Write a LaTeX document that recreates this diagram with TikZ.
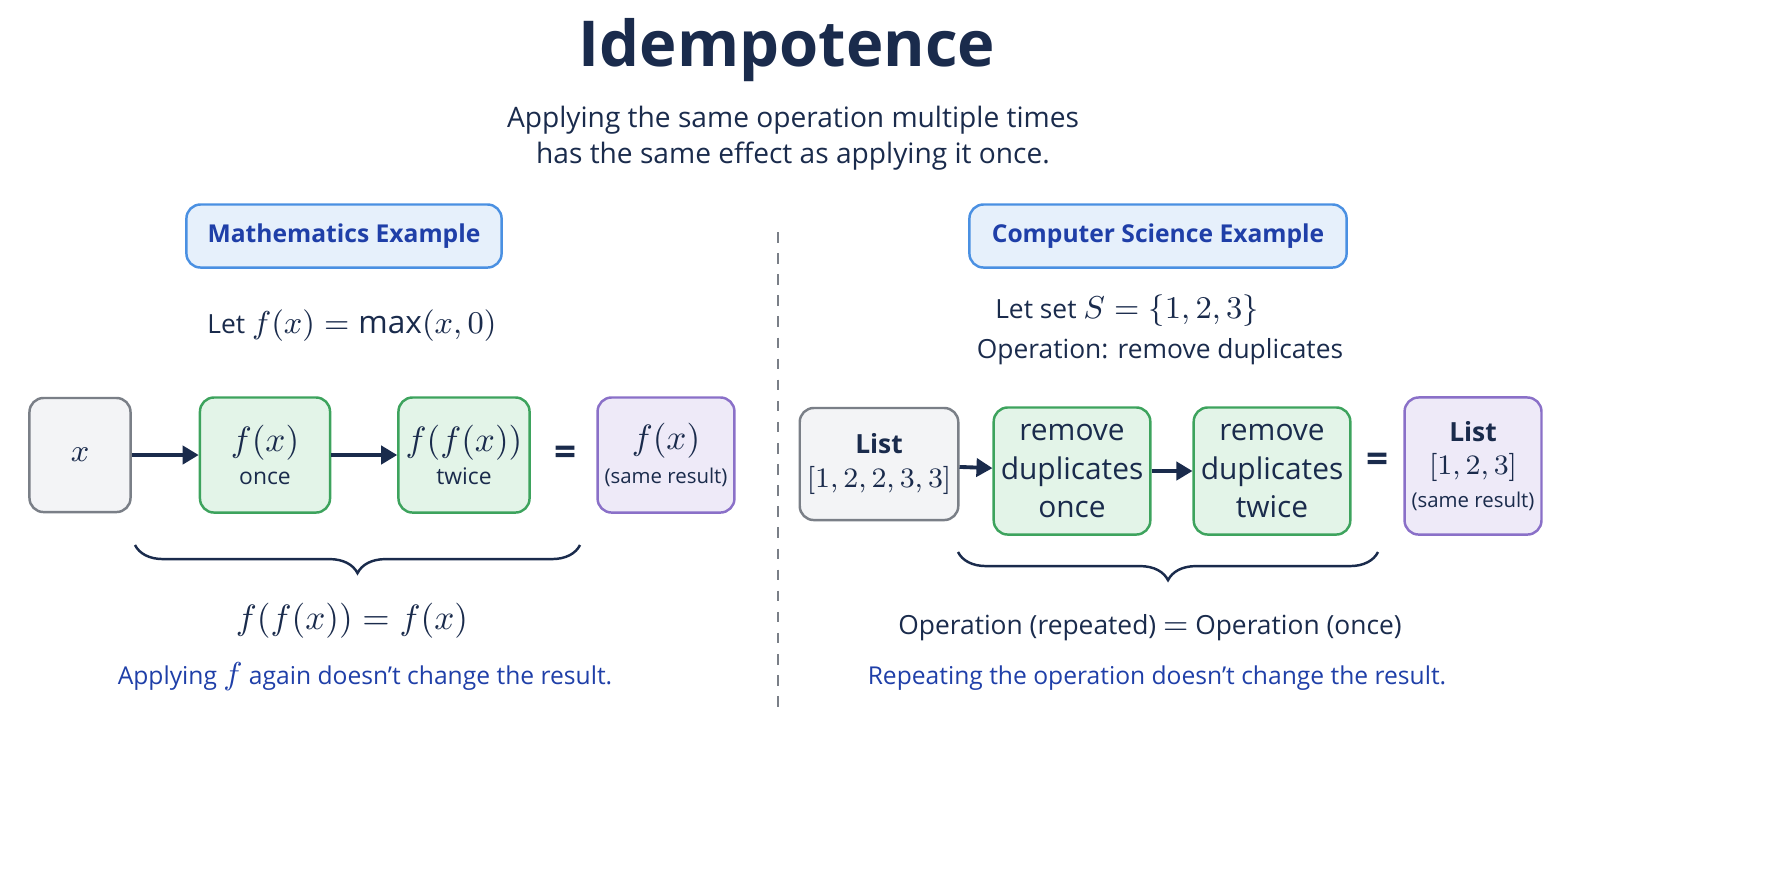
\documentclass[tikz,border=0pt]{standalone}
\usepackage{fontspec}
\setmainfont{Open Sans}
\usepackage{amsmath}
\usetikzlibrary{arrows.meta,decorations.pathreplacing}
\definecolor{navy}{HTML}{1A2B4C}
\definecolor{linkblue}{HTML}{1F3FA8}
\definecolor{hdrfill}{HTML}{E6F0FB}
\definecolor{hdrdraw}{HTML}{4A90E2}
\definecolor{grnfill}{HTML}{E3F4E8}
\definecolor{grndraw}{HTML}{3DA35D}
\definecolor{gryfill}{HTML}{F3F4F6}
\definecolor{grydraw}{HTML}{7A7F87}
\definecolor{purfill}{HTML}{EEEAF8}
\definecolor{purdraw}{HTML}{8A70C8}
\newcommand{\fs}[1]{\fontsize{#1}{1.3\dimexpr#1pt\relax}\selectfont}
\begin{document}
\begin{tikzpicture}[x=0.01cm, y=-0.01cm, font=\fs{6.5}, text=navy,
	box/.style={rounded corners=4pt, line width=0.7pt, align=center, inner sep=2pt},
	header/.style={box, fill=hdrfill, draw=hdrdraw, text=linkblue, font=\fs{7}\bfseries, minimum height=0.63cm},
	grn/.style={box, fill=grnfill, draw=grndraw},
	gry/.style={box, fill=gryfill, draw=grydraw},
	pur/.style={box, fill=purfill, draw=purdraw},
	apply/.style={-{Triangle[length=1.6mm,width=1.8mm]}, line width=1.1pt, navy},
	brace/.style={decorate, decoration={brace, mirror, amplitude=8pt}, line width=0.7pt, navy}]
	\useasboundingbox (0,0) rectangle (1774,887);
	\node[font=\fs{18}\bfseries] (title) at (787,50) {Idempotence};
	\node[align=center, font=\fs{8}] (sub) at (793,138) {Applying the same operation multiple times\\has the same effect as applying it once.};
	\draw[dashed, grydraw, line width=0.6pt] (778,232) coordinate (top) -- (778,715) coordinate (bot);
	% mathematics
	\node[header, minimum width=3.15cm] (mhead) at (344,236) {Mathematics Example};
	\node[font=\fs{7.5}] (mlet) at (352,326) {Let \fs{9}$f(x)=\max(x,0)$};
	\node[gry, minimum width=1.01cm, minimum height=1.14cm] (mx) at (80,455) {\fs{9}$x$};
	\node[grn, minimum width=1.30cm, minimum height=1.15cm] (monce) at (265,455) {\fs{10}$f(x)$\\[1pt] \fs{6.5}once};
	\node[grn, minimum width=1.31cm, minimum height=1.15cm] (mtwice) at (464,455) {\fs{10}$f(f(x))$\\[1pt] \fs{6.5}twice};
	\node[font=\fs{11}\bfseries] (meq) at (566,456) {=};
	\node[pur, minimum width=1.33cm, minimum height=1.15cm] (mres) at (666,455) {\fs{10}$f(x)$\\[1pt] \fs{5.8}(same result)};
	\draw[apply] (mx) -- (monce);
	\draw[apply] (monce) -- (mtwice);
	\draw[brace] (135,545) -- (580,545);
	\node[font=\fs{10}] (mlaw) at (352,621) {$f(f(x))=f(x)$};
	\node[text=linkblue, font=\fs{7}] (mnote) at (365,677) {Applying \fs{9}$f$\fs{7} again doesn’t change the result.};
	% computer science
	\node[header, minimum width=3.77cm] (chead) at (1158,236) {Computer Science Example};
	\node[font=\fs{7.5}] (clet) at (1127,311) {Let set \fs{9}$S=\{1,2,3\}$};
	\node[font=\fs{7.5}] (cop) at (1160,352) {Operation: remove duplicates};
	\node[gry, minimum width=1.32cm, minimum height=1.12cm] (clist) at (879,464) {\fs{7.5}\bfseries List\\[1pt] \fs{8}$[1,2,2,3,3]$};
	\node[grn, minimum width=1.45cm, minimum height=1.27cm, font=\rmfamily\fs{8.5}] (conce) at (1072,471) {remove\\duplicates\\once};
	\node[grn, minimum width=1.45cm, minimum height=1.27cm, font=\rmfamily\fs{8.5}] (ctwice) at (1272,471) {remove\\duplicates\\twice};
	\node[font=\fs{11}\bfseries] (ceq) at (1378,463) {=};
	\node[pur, minimum width=1.24cm, minimum height=1.37cm] (cres) at (1473,466) {\fs{7.5}\bfseries List\\[1pt] \fs{8}$[1,2,3]$\\[1pt] \fs{5.8}(same result)};
	\draw[apply] (clist) -- (conce);
	\draw[apply] (conce) -- (ctwice);
	\draw[brace] (958,552) -- (1378,552);
	\node[font=\fs{7.5}] (claw) at (1150,628) {Operation (repeated) \fs{9}$=$\fs{7.5} Operation (once)};
	\node[text=linkblue, font=\fs{7}] (cnote) at (1157,678) {Repeating the operation doesn’t change the result.};
\end{tikzpicture}
\end{document}
